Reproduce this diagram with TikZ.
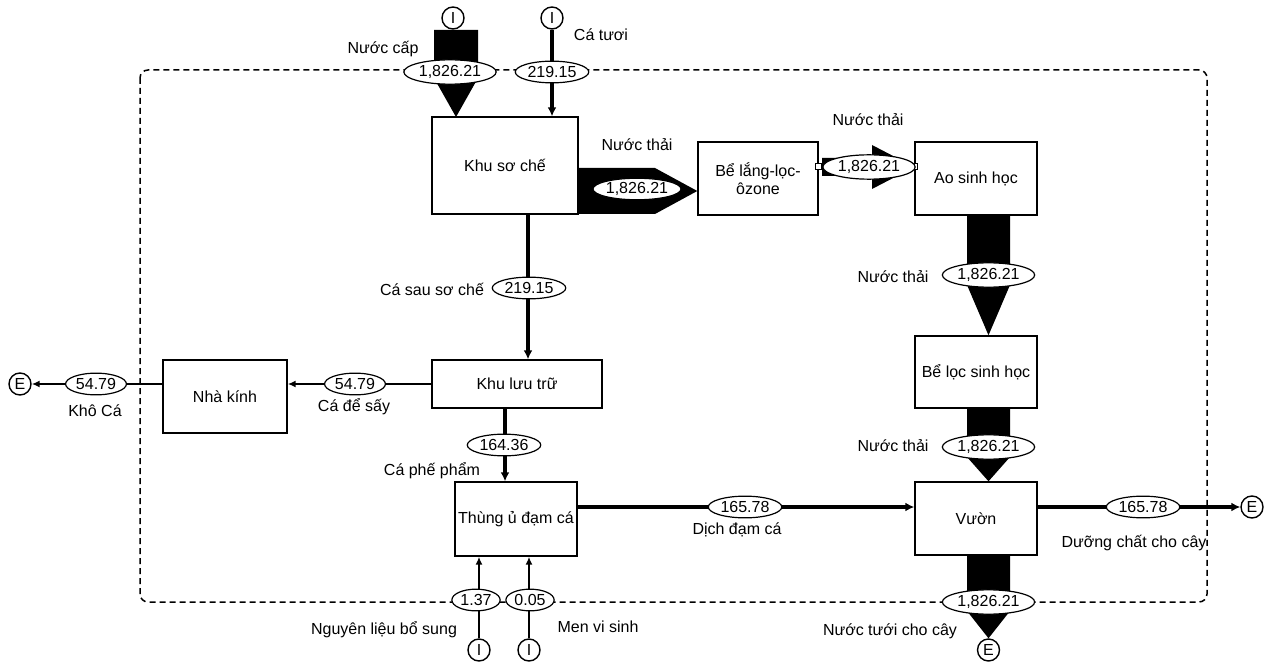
\documentclass[tikz,border=0pt]{standalone}
\usepackage{fontspec}
\setmainfont{Liberation Sans}
\usetikzlibrary{arrows.meta,calc,shapes.geometric}
\tikzset{
  box/.style={draw, line width=1.4pt, fill=white, align=center, inner sep=2pt},
  lab/.style={draw, ellipse, fill=white, line width=1.2pt, inner xsep=1.5pt, inner ysep=2pt},
  txt/.style={inner sep=0pt},
  term/.style={draw, circle, line width=1.4pt, minimum size=22pt, inner sep=0pt, fill=white},
  thk/.style={line width=4pt, -{Latex[length=9pt,width=9pt]}},
  thkn/.style={line width=4pt},
  thn/.style={line width=1.6pt, -{Latex[length=8pt,width=7pt]}},
  thnn/.style={line width=1.6pt},
  port/.style={draw, fill=white, line width=1pt, minimum size=6pt, inner sep=0pt}
}
\begin{document}
\begin{tikzpicture}[x=1pt,y=-1pt,font=\fontsize{16}{18}\selectfont]
\useasboundingbox (0,0) rectangle (1269,668);
% system boundary
\draw[line width=1.5pt, dash pattern=on 6pt off 4pt, rounded corners=8pt] (140,70) rectangle (1207,602);

% process boxes
\node[box, minimum width=146pt, minimum height=97pt] (sc) at (505,165.5) {Khu sơ chế};
\node[box, minimum width=120pt, minimum height=73pt] (bl) at (758,178.5) {Bể lắng-lọc-\\ôzone};
\node[box, minimum width=122pt, minimum height=73pt] (ao) at (976,178.5) {Ao sinh học};
\node[box, minimum width=122pt, minimum height=72pt] (bh) at (976,372) {Bể lọc sinh học};
\node[box, minimum width=122pt, minimum height=73pt] (vu) at (976,518.5) {Vườn};
\node[box, minimum width=170pt, minimum height=48pt] (lt) at (517,384) {Khu lưu trữ};
\node[box, minimum width=124pt, minimum height=73pt] (nk) at (225,396.5) {Nhà kính};
\node[box, minimum width=122pt, minimum height=74pt] (tu) at (516,519) {Thùng ủ đạm cá};

% terminals
\node[term] (I1) at (453,18) {I};
\node[term] (I2) at (552,18) {I};
\node[term] (I3) at (479,650) {I};
\node[term] (I4) at (529,650) {I};
\node[term] (E1) at (20,384) {E};
\node[term] (E2) at (988.5,650) {E};
\node[term] (E3) at (1252,507) {E};

% wide (bulk) flows
\fill (434,30) -- (478,30) -- (478,78) -- (456,117) -- (434,78) -- cycle;
\fill (sc.east |- 0,168) -- (655,168) -- (bl.west |- 0,191) -- (655,214) -- (sc.east |- 0,214) -- cycle;
\draw[thnn] (bl.east |- 0,167) -- (ao.west |- 0,167);
\fill (822,158) -- (872,158) -- (872,145) -- (ao.west |- 0,167) -- (872,189) -- (872,176) -- (822,176) -- cycle;
\node[port] (p1) at (bl.east |- 0,167) {};
\node[port] (p2) at (ao.west |- 0,167) {};
\fill (967,215) -- (1010,215) -- (1010,285) -- (bh.north -| 988.5,0) -- (967,285) -- cycle;
\fill (967,408) -- (1010,408) -- (1010,457) -- (vu.north -| 988.5,0) -- (967,457) -- cycle;
\fill (967,555) -- (1010,555) -- (1010,611) -- (E2.north) -- (967,611) -- cycle;

% line flows
\draw[thk] (I2) -- (I2 |- sc.north);
\draw[thk] ([xshift=23pt]sc.south) -- ([xshift=11pt]lt.north);
\draw[thn] (lt.west) -- (nk.east |- lt.west);
\draw[thn] (nk.west |- E1) -- (E1);
\draw[thk] ([xshift=-12pt]lt.south) -- ([xshift=-11pt]tu.north);
\draw[thk] (tu.east |- E3) -- (vu.west |- E3);
\draw[thk] (vu.east |- E3) -- (E3);
\draw[thn] (I3) -- (I3 |- tu.south);
\draw[thn] (I4) -- (I4 |- tu.south);

% flow values
\node[lab] (v1) at (450,72) {1,826.21};
\node[lab] (v2) at (552,72) {219.15};
\node[lab, inner xsep=0pt, inner ysep=1pt] (v3) at (637,189) {1,826.21};
\node[lab] (v4) at (869,167) {1,826.21};
\node[lab] (v5) at (988.5,275) {1,826.21};
\node[lab] (v6) at (988.5,447) {1,826.21};
\node[lab] (v7) at (988.5,602) {1,826.21};
\node[lab] (v8) at (529,288) {219.15};
\node[lab] (v9) at (355,384) {54.79};
\node[lab] (v10) at (96,384) {54.79};
\node[lab] (v11) at (504,445) {164.36};
\node[lab] (v12) at (745,507) {165.78};
\node[lab] (v13) at (1143,507) {165.78};
\node[lab] (v14) at (476,600) {1.37};
\node[lab] (v15) at (530,600) {0.05};

% flow names
\node[txt] (t1) at (383,49) {Nước cấp};
\node[txt] (t2) at (601,35) {Cá tươi};
\node[txt] (t3) at (637,145) {Nước thải};
\node[txt] (t4) at (868,120) {Nước thải};
\node[txt] (t5) at (893,277) {Nước thải};
\node[txt] (t6) at (893,446) {Nước thải};
\node[txt] (t7) at (432,289) {Cá sau sơ chế};
\node[txt] (t8) at (354,407) {Cá để sấy};
\node[txt] (t9) at (95,411) {Khô Cá};
\node[txt] (t10) at (432,471) {Cá phế phẩm};
\node[txt] (t11) at (737,530) {Dịch đạm cá};
\node[txt] (t12) at (1134,543) {Dưỡng chất cho cây};
\node[txt] (t13) at (384,630) {Nguyên liệu bổ sung};
\node[txt] (t14) at (598,627) {Men vi sinh};
\node[txt] (t15) at (890,631) {Nước tưới cho cây};
\end{tikzpicture}
\end{document}
